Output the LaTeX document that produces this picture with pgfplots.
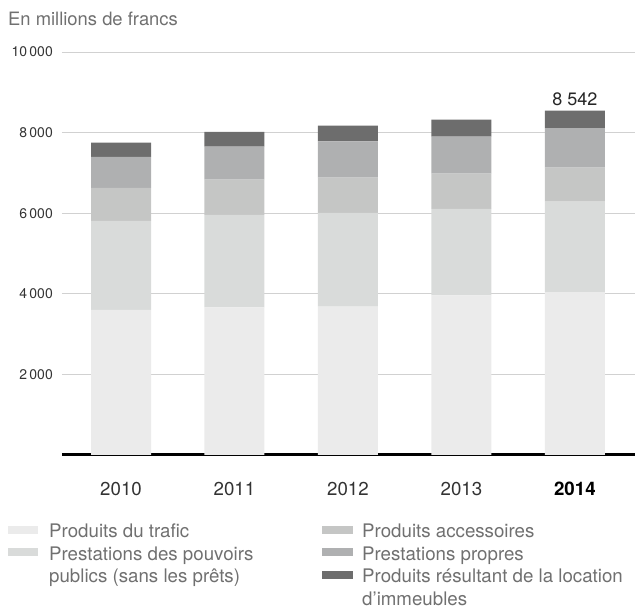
\documentclass[border=0pt]{standalone}
\usepackage{pgfplots}
\pgfplotsset{compat=1.18}
\usepackage{pgfplotstable}
\usepackage{fontspec}
\setmainfont{TeX Gyre Heros}
\definecolor{cA}{HTML}{EBEBEB}
\definecolor{cB}{HTML}{D9DBDA}
\definecolor{cC}{HTML}{C5C6C5}
\definecolor{cD}{HTML}{AFB0B1}
\definecolor{cE}{HTML}{6D6D6D}
\definecolor{txtgray}{HTML}{707070}
\definecolor{tickgray}{HTML}{333333}
\pgfplotstableread{
x trafic pouvoirs accessoires propres location
0 3600 2210 820 770 350
1 3660 2300 870 820 370
2 3680 2330 870 900 390
3 3960 2150 870 920 420
4 4040 2250 840 980 432
}\datatable
\begin{document}
\begin{tikzpicture}[x=1bp,y=1bp]
\useasboundingbox (-62,-155) rectangle (573,455);
\begin{axis}[
  at={(0,0)}, anchor=south west,
  scale only axis, width=573bp, height=403bp,
  xmin=-0.52, xmax=4.53, ymin=0, ymax=10000,
  enlargelimits=false,
  scaled y ticks=false,
  ybar stacked, bar width=60bp,
  axis line style={draw=none},
  tick style={draw=none},
  major tick length=0pt,
  xtick={0,1,2,3,4},
  xticklabels={2010,2011,2012,2013,{\textcolor{black}{\bfseries 2014}}},
  ytick={2000,4000,6000,8000,10000},
  yticklabels={2\,000,4\,000,6\,000,8\,000,10\,000},
  xticklabel style={inner sep=0pt, anchor=north, yshift=-27bp, font=\fontsize{18.7bp}{22bp}\selectfont, text=tickgray},
  yticklabel style={inner sep=0pt, anchor=east, xshift=-9bp, font=\fontsize{14bp}{17bp}\selectfont, text=tickgray},
  ymajorgrids,
  grid style={draw=black!18, line width=0.8bp},
  clip=false,
]
\addplot[fill=cA, draw=none] table[x=x, y=trafic] {\datatable};
\addplot[fill=cB, draw=none] table[x=x, y=pouvoirs] {\datatable};
\addplot[fill=cC, draw=none] table[x=x, y=accessoires] {\datatable};
\addplot[fill=cD, draw=none] table[x=x, y=propres] {\datatable};
\addplot[fill=cE, draw=none] table[x=x, y=location] {\datatable};
\draw[black, line width=3bp] (rel axis cs:0,0) -- (rel axis cs:1,0);
\node[anchor=base, inner sep=0pt, yshift=4.8bp, font=\fontsize{18bp}{21bp}\selectfont, text=black!85] at (axis cs:4,8542) {8 542};
\end{axis}
% title
\node[anchor=base west, inner sep=0pt, font=\fontsize{18.4bp}{22bp}\selectfont, text=txtgray] at (-54,429) {En millions de francs};
% legend
\fill[cA] (-54,-78.7) rectangle (-24,-70.7);
\fill[cB] (-54,-101.2) rectangle (-24,-93.2);
\fill[cC] (260,-78.7) rectangle (291,-70.7);
\fill[cD] (260,-101.2) rectangle (291,-93.2);
\fill[cE] (260,-123.7) rectangle (291,-115.7);
\begin{scope}[every node/.style={anchor=base west, inner sep=0pt, font=\fontsize{18.7bp}{22bp}\selectfont, text=txtgray}]
\node at (-13,-82.7) {Produits du trafic};
\node at (-13,-105.2) {Prestations des pouvoirs};
\node at (-13,-127.7) {publics (sans les prêts)};
\node at (300,-82.7) {Produits accessoires};
\node at (300,-105.2) {Prestations propres};
\node at (300,-127.7) {Produits résultant de la location};
\node at (300,-150.2) {d’immeubles};
\end{scope}
\end{tikzpicture}
\end{document}
